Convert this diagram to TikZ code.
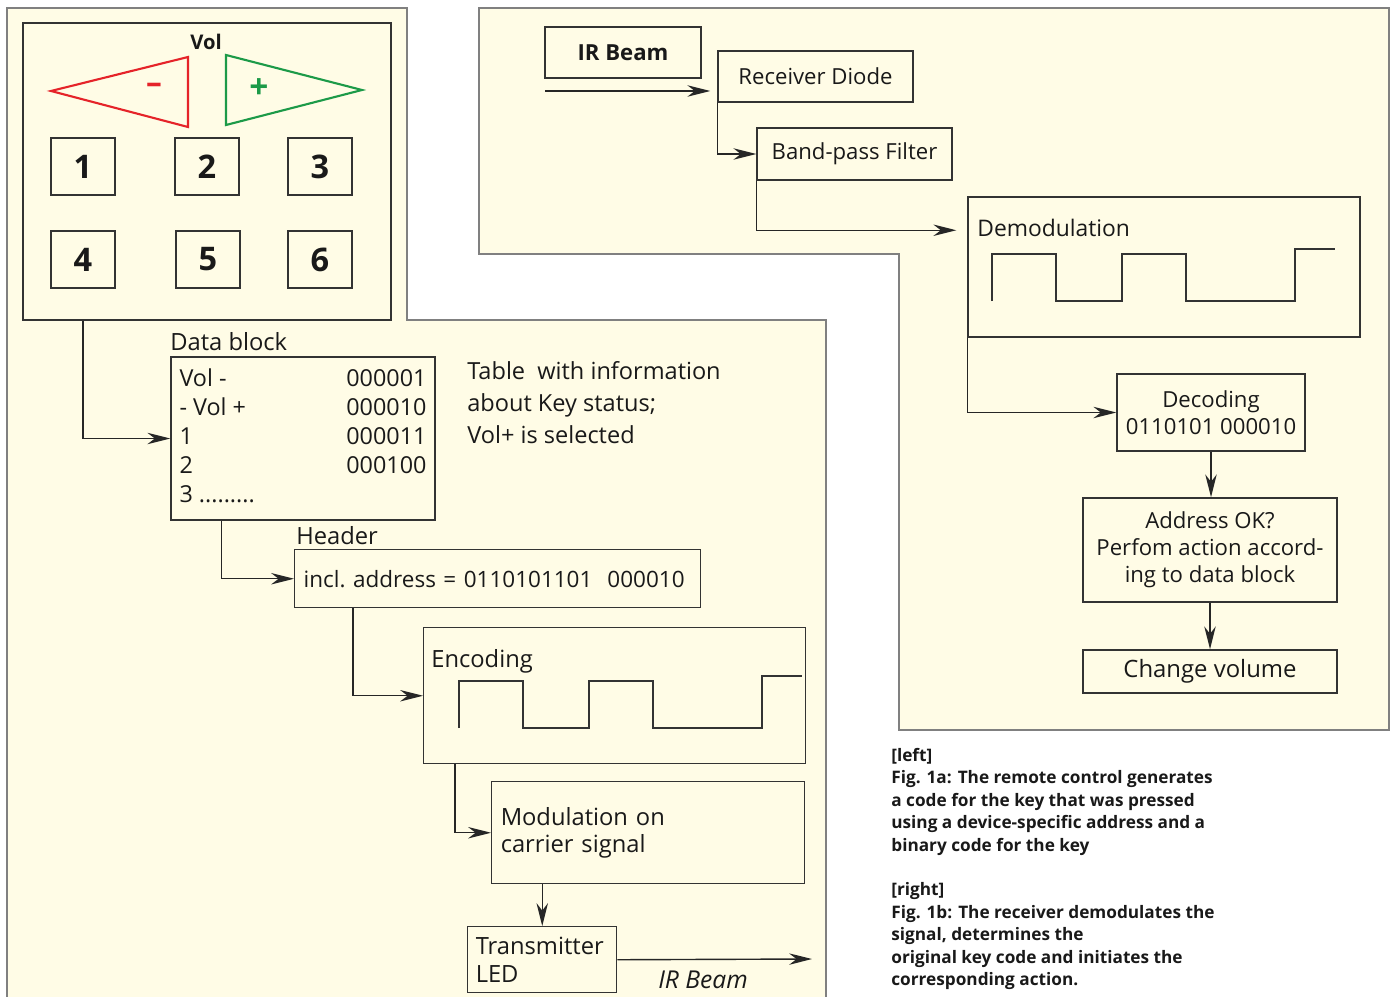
\documentclass[tikz,border=0pt]{standalone}
\usepackage{fontspec}
\setmainfont{Open Sans}
\usetikzlibrary{arrows.meta,positioning}
\definecolor{panelbg}{HTML}{FFFCE6}
\definecolor{volred}{HTML}{E52329}
\definecolor{volgreen}{HTML}{1C9A48}
\newlength\pxu
\setlength\pxu{0.02cm}
\tikzset{panel/.style={fill=panelbg, draw=black!50, line width=0.6pt}}
\tikzset{box/.style={draw=black!80, line width=0.85pt, inner sep=0pt}}
\tikzset{key/.style={box, minimum width=64\pxu, minimum height=57\pxu, font=\fontsize{18.5}{18.5}\selectfont\bfseries}}
\tikzset{arr/.style={draw=black!85, line width=0.8pt, -{Stealth[length=13pt, width=6.5pt]}}}
\tikzset{wave/.style={draw=black!80, line width=0.8pt}}
\tikzset{txbig/.style={font=\fontsize{13.5}{15.5}\selectfont}}
\newcommand{\pulsetrain}[1]{\draw[wave, shift={#1}] (0,0) -- (0,-47) -- (64,-47) -- (64,0) -- (130,0) -- (130,-47) -- (194,-47) -- (194,0) -- (303,0) -- (303,-52) -- (343,-52);}

\begin{document}
\begin{tikzpicture}[x=0.02cm, y=-0.02cm, font=\fontsize{12.6}{15.5}\selectfont, text=black!90]
	\useasboundingbox (0,0) rectangle (1394,997);
	% panels
	\path[panel] (7,8) -- (407,8) -- (407,320) -- (826,320) -- (826,1003) -- (7,1003) -- cycle;
	\path[panel] (479,8) -- (1389,8) -- (1389,730) -- (899,730) -- (899,254) -- (479,254) -- cycle;
	
	% remote control
	\node[box, minimum width=368\pxu, minimum height=297\pxu] (remote) at (207,171.5) {};
	\node[font=\fontsize{11.5}{11.5}\selectfont\bfseries] (vol) at (206,42) {Vol};
	\draw[volred, line width=1.2pt] (51,91) -- (188,57) -- (188,127) -- cycle;
	\draw[volgreen, line width=1.2pt] (226,55) -- (362,90) -- (226,125) -- cycle;
	\node[volred, font=\fontsize{18}{18}\selectfont\bfseries] (voldown) at (154,88) {–};
	\node[volgreen, font=\fontsize{19}{19}\selectfont\bfseries] (volup) at (259,89) {+};
	\foreach \n/\x/\y in {1/83/166.5, 2/207/166.5, 3/320/166.5, 4/83/259.5, 5/208/259.5, 6/320/259.5}
		\node[key] (key\n) at (\x,\y) {\n};
	
	% transmitter chain
	\node[box, minimum width=264\pxu, minimum height=163\pxu, font=\fontsize{13.3}{16.5}\selectfont] (data) at (303,438.5) {%
		\begin{tabular*}{247\pxu}{@{}l@{\extracolsep{\fill}}r@{}}
			Vol - & 000001\\
			- Vol + & 000010\\
			1 & 000011\\
			2 & 000100\\
			3 ......... & \\
		\end{tabular*}};
	\node[txbig, anchor=base west, inner sep=0pt] (datalbl) at (170,350) {Data block};
	\node[anchor=north west, align=left, inner sep=0pt, font=\fontsize{13.4}{18.2}\selectfont] (info) at (467,361) {Table\ \ with information\\about Key status;\\Vol+ is selected};
	
	\node[txbig, anchor=base west, inner sep=0pt] (hdrlbl) at (296,544) {Header};
	\node[box, anchor=north west, minimum width=406\pxu, minimum height=58\pxu, text width=392\pxu, inner xsep=7\pxu, align=left, font=\fontsize{12.8}{15.5}\selectfont] (header) at (294,549) {\hspace{2\pxu}incl.\ address = 0110101101\ \ 000010};
	
	\node[box, anchor=north west, minimum width=382\pxu, minimum height=136\pxu] (enc) at (423,627) {};
	\node[txbig, anchor=base west, inner sep=0pt] (enctxt) at (431,667) {Encoding};
	\pulsetrain{(459,728)}
	
	\node[box, txbig, anchor=north west, minimum width=313\pxu, minimum height=102\pxu, text width=295\pxu, inner xsep=9\pxu, align=left] (mod) at (491,781) {Modulation on\\carrier signal};
	\node[box, txbig, anchor=north west, minimum width=149\pxu, minimum height=66\pxu, text width=133\pxu, inner xsep=8\pxu, align=left] (led) at (467,926) {Transmitter\\LED};
	\coordinate (beamout) at (812,959);
	\node[font=\fontsize{14}{15}\selectfont\itshape] (beamlbl) at (703,980) {IR Beam};
	
	\draw[arr] (key4.south |- remote.south) |- (data.west);
	\draw[arr] ([xshift=51\pxu]data.south west) |- (header.west);
	\draw[arr] ([xshift=59\pxu]header.south west) |- (enc.west);
	\draw[arr] ([xshift=32\pxu]enc.south west) |- (mod.west);
	\draw[arr] (mod.south -| led.north) -- (led.north);
	\draw[arr] (led.east) -- (beamout);
	
	% receiver chain
	\node[box, minimum width=156\pxu, minimum height=51\pxu, font=\fontsize{12.6}{15}\selectfont\bfseries] (irbeam) at (623,52.5) {IR Beam};
	\node[box, minimum width=195\pxu, minimum height=51\pxu] (rxdiode) at (815.5,76.5) {Receiver Diode};
	\node[box, minimum width=195\pxu, minimum height=52\pxu] (bpf) at (854.5,154) {Band-pass Filter};
	\node[box, minimum width=392\pxu, minimum height=140\pxu] (demod) at (1164,267) {};
	\node[anchor=base west, inner sep=0pt, font=\fontsize{13}{15.5}\selectfont] (demodtxt) at (977,236) {Demodulation};
	\pulsetrain{(992,301)}
	\node[box, minimum width=188\pxu, minimum height=77\pxu, align=center] (decode) at (1211,412.5) {Decoding\\0110101 000010};
	\node[box, minimum width=254\pxu, minimum height=104\pxu, align=center] (addr) at (1210,550) {Address OK?\\Perfom action accord-\\ing to data block};
	\node[box, minimum width=254\pxu, minimum height=43\pxu, font=\fontsize{13.6}{15.5}\selectfont] (volchg) at (1210,671.5) {Change volume};
	\coordinate (beamin) at (545,91);
	
	\draw[arr, shorten >=7\pxu] (beamin) -- (beamin -| rxdiode.west);
	\draw[arr] (rxdiode.south west) |- (bpf.west);
	\draw[arr, shorten >=11\pxu] (bpf.south west) |- ([yshift=-34\pxu]demod.north west);
	\draw[arr] (demod.south west) |- (decode.west);
	\draw[arr] (decode.south) -- (decode.south |- addr.north);
	\draw[arr] (addr.south) -- (volchg.north);
	
	% caption
	\node[anchor=north west, align=left, inner sep=0pt, font=\fontsize{9.8}{12.75}\selectfont\bfseries] (caption) at (891,748) {[left]\\Fig. 1a: The remote control generates\\a code for the key that was pressed\\using a device-specific address and a\\binary code for the key\\[12.75pt][right]\\Fig. 1b: The receiver demodulates the\\signal, determines the\\original key code and initiates the\\corresponding action.};
\end{tikzpicture}
\end{document}
